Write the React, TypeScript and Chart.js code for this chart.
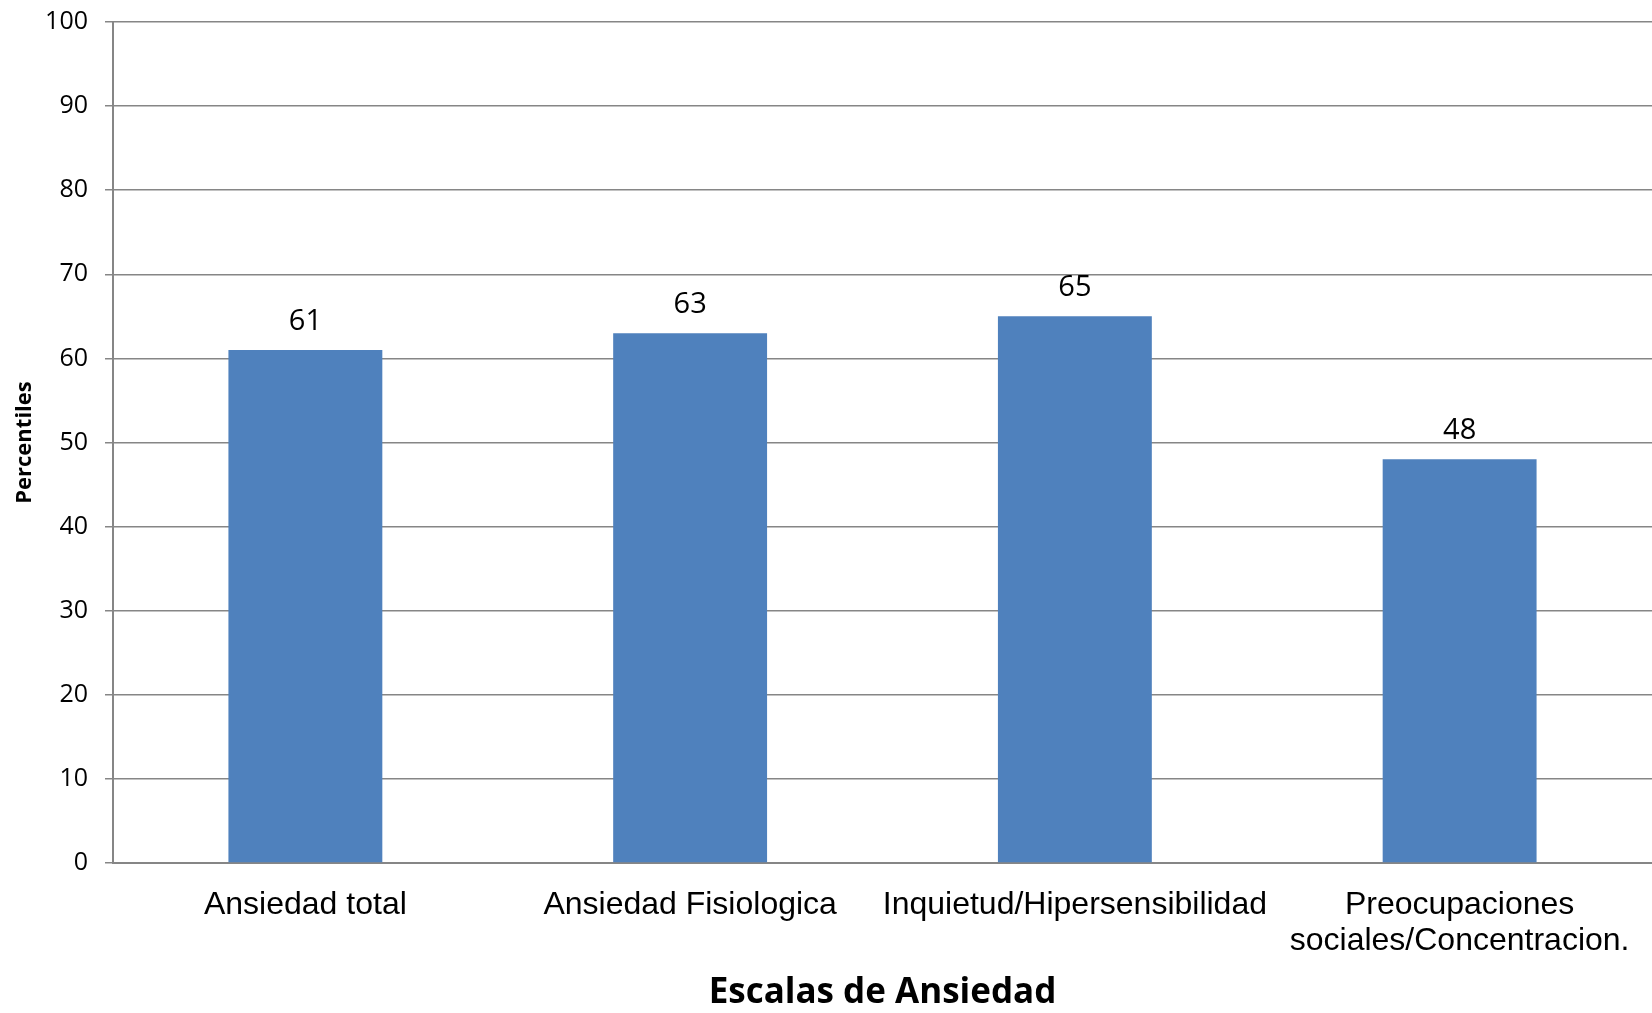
import React, { useEffect, useRef } from "react";
import { Chart, registerables } from "chart.js";

Chart.register(...registerables);

const categories: (string | string[])[] = [
  "Ansiedad total",
  "Ansiedad Fisiologica",
  "Inquietud/Hipersensibilidad",
  ["Preocupaciones", "sociales/Concentracion."],
];
const percentiles = [61, 63, 65, 48];
const yTicks = [0, 10, 20, 30, 40, 50, 60, 70, 80, 90, 100];

const BAR_COLOR = "#4F81BD";
const GRID_COLOR = "#868686";

// Draws the value above each bar
const valueLabels = {
  id: "valueLabels",
  afterDatasetsDraw(chart: any) {
    const ctx = chart.ctx;
    const meta = chart.getDatasetMeta(0);
    ctx.save();
    ctx.font = "29px 'Open Sans'";
    ctx.fillStyle = "#000";
    ctx.textAlign = "center";
    ctx.textBaseline = "alphabetic";
    meta.data.forEach((bar: any, i: number) => {
      ctx.fillText(String(percentiles[i]), bar.x, bar.y - 20);
    });
    ctx.restore();
  },
};

export default function App() {
  const canvasRef = useRef<HTMLCanvasElement | null>(null);

  useEffect(() => {
    document.body.style.margin = "0";
    const canvas = canvasRef.current;
    if (!canvas) return;
    const chart = new Chart(canvas, {
      type: "bar",
      data: {
        labels: categories,
        datasets: [
          {
            data: percentiles,
            backgroundColor: BAR_COLOR,
            borderWidth: 0,
            barPercentage: 0.4,
            categoryPercentage: 1,
          },
        ],
      },
      options: {
        animation: false,
        responsive: false,
        maintainAspectRatio: false,
        layout: { padding: { top: 22, right: 0, left: 0, bottom: 0 } },
        plugins: {
          legend: { display: false },
          tooltip: { enabled: false },
        },
        scales: {
          x: {
            grid: { display: false },
            border: { display: true, color: GRID_COLOR, width: 2 },
            ticks: {
              color: "#000",
              font: { family: "'Liberation Sans', Arial", size: 32, lineHeight: 1.13 },
              padding: 16,
              autoSkip: false,
              minRotation: 0,
              maxRotation: 0,
            },
            title: {
              display: true,
              text: "Escalas de Ansiedad",
              color: "#000",
              font: { family: "'Open Sans'", size: 35, weight: "bold", lineHeight: 1.15 },
              padding: { top: 0, bottom: 0 },
            },
            afterFit(scale: any) {
              scale.height = 150;
              scale.paddingLeft = 0;
              scale.paddingRight = 0;
            },
          },
          y: {
            min: 0,
            max: 100,
            afterBuildTicks(scale: any) {
              scale.ticks = yTicks.map((v) => ({ value: v }));
            },
            grid: { color: GRID_COLOR, lineWidth: 1.5, tickLength: 8 },
            border: { display: true, color: GRID_COLOR, width: 2 },
            ticks: {
              color: "#000",
              font: { family: "'Open Sans'", size: 25 },
              padding: 17,
            },
            title: {
              display: true,
              text: "Percentiles",
              color: "#000",
              font: { family: "'Open Sans'", size: 22, weight: "bold" },
              padding: { top: 12, bottom: 0 },
            },
            afterFit(scale: any) {
              scale.width = 113;
              scale.paddingTop = 0;
              scale.paddingBottom = 0;
            },
          },
        },
      },
      plugins: [valueLabels],
    });
    return () => chart.destroy();
  }, []);

  return (
    <div style={{ width: 1652, height: 1013, background: "#fff" }}>
      <canvas ref={canvasRef} width={1652} height={1013} style={{ display: "block" }} />
    </div>
  );
}
